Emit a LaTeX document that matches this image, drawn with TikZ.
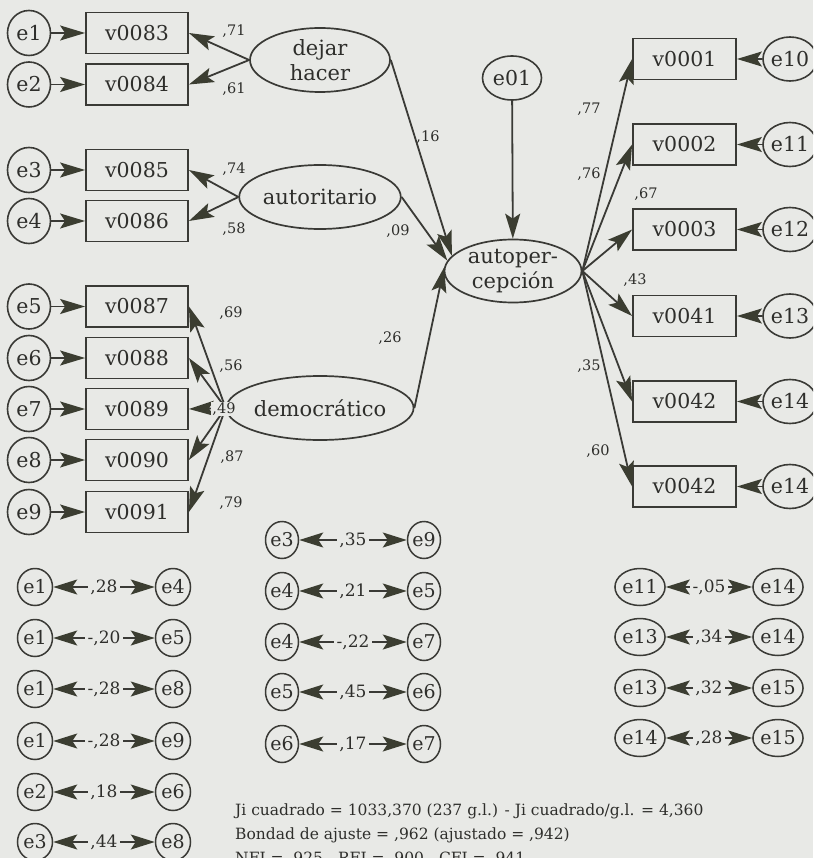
\documentclass[tikz,border=0pt]{standalone}
\usepackage{fontspec}
\setmainfont{DejaVu Serif}
\usetikzlibrary{arrows.meta,shapes.geometric}
\definecolor{bg}{HTML}{E8E9E6}
\definecolor{lc}{HTML}{3A3A36}
\definecolor{hc}{HTML}{3B3D31}
\definecolor{tc}{HTML}{2E2E2B}
\tikzset{
  ar/.style={-{Stealth[length=25pt,width=15pt,inset=5pt,color=hc]}, draw=lc, line width=1.8pt},
  dar/.style={{Stealth[length=24pt,width=15pt,inset=5pt,color=hc]}-{Stealth[length=24pt,width=15pt,inset=5pt,color=hc]}, draw=lc, line width=1.8pt},
  box/.style={draw=lc, line width=1.8pt, minimum width=102pt, minimum height=41pt, inner sep=0pt, text=tc, font=\fontsize{20.5}{24}\selectfont},
  ecirc/.style={ellipse, draw=lc, line width=1.6pt, minimum width=43pt, minimum height=45pt, inner sep=0pt, text=tc, font=\fontsize{20.5}{24}\selectfont},
  rcirc/.style={ellipse, draw=lc, line width=1.6pt, minimum width=37pt, minimum height=44pt, inner sep=0pt, text=tc, font=\fontsize{20.5}{24}\selectfont},
  scirc/.style={ellipse, draw=lc, line width=1.5pt, minimum width=35pt, minimum height=37pt, inner sep=0pt, text=tc, font=\fontsize{19}{22}\selectfont},
  lat/.style={ellipse, draw=lc, line width=1.7pt, minimum width=140pt, minimum height=64pt, inner sep=0pt, align=center, text=tc, font=\fontsize{21}{25}\selectfont},
  lbl/.style={inner sep=1pt, text=tc, font=\fontsize{14.5}{17}\selectfont},
  lblf/.style={lbl, fill=bg},
  clbl/.style={inner sep=2.5pt, fill=bg, text=tc, font=\fontsize{17}{20}\selectfont},
  stat/.style={anchor=base west, inner sep=0pt, text=tc, font=\fontsize{15.5}{18}\selectfont},
}
\begin{document}
\begin{tikzpicture}[x=1pt,y=-1pt]
\fill[bg] (0,0) rectangle (813,858);
\useasboundingbox (0,0) rectangle (813,858);
\clip (0,0) rectangle (813,858);

% left indicators
\foreach \i/\v/\y in {1/v0083/33, 2/v0084/84.5, 3/v0085/170, 4/v0086/221, 5/v0087/306.5, 6/v0088/358, 7/v0089/409, 8/v0090/460, 9/v0091/512}{
  \node[box] (b\i) at (137,\y) {\v};
  \node[ecirc] (e\i) at (29,\y) {e\i};
  \draw[ar] (e\i) -- (b\i);
}

% latent factors
\node[lat] (dh) at (320,60) {dejar\\hacer};
\node[lat] (au) at (320,197) {autoritario};
\node[lat] (de) at (320,408) {democrático};
\node[lat, minimum width=137pt, minimum height=63pt] (ap) at (513,271) {autoper-\\cepción};
\node[ellipse, draw=lc, line width=1.6pt, minimum width=59pt, minimum height=44pt, inner sep=0pt, text=tc, font=\fontsize{20.5}{24}\selectfont] (e01) at (512,78) {e01};

% loadings left
\draw[ar] (dh.west) -- (b1.east);
\draw[ar] (dh.west) -- (b2.east);
\draw[ar] (au.west) -- (b3.east);
\draw[ar] (au.west) -- (b4.east);
\draw[ar] (de.west) -- (b5.east);
\draw[ar] (de.west) -- (b6.east);
\draw[ar] (de.west) -- (b7.east);
\draw[ar] (de.west) -- (b8.east);
\draw[ar] (de.west) -- (b9.east);

\node[lbl] (l71) at (234,31) {,71};
\node[lbl] (l61) at (234,89) {,61};
\node[lbl] (l74) at (234,169) {,74};
\node[lbl] (l58) at (234,229) {,58};
\node[lbl] (l69) at (231,313) {,69};
\node[lblf] (l56) at (231,366) {,56};
\node[lblf] (l49) at (224,409) {,49};
\node[lblf] (l87) at (232,457) {,87};
\node[lbl] (l79) at (231,503) {,79};

% structural paths
\draw[ar] (dh.east) -- (ap.166);
\draw[ar] (au.east) -- (ap.171);
\draw[ar] (de.east) -- (ap.177);
\draw[ar] (e01) -- (ap);
\node[lbl] (l16) at (428,137) {,16};
\node[lbl] (l09) at (398,231) {,09};
\node[lbl] (l26) at (390,338) {,26};

% right indicators
\foreach \i/\v/\y/\e in {1/v0001/59/e10, 2/v0002/144.5/e11, 3/v0003/229.5/e12, 4/v0041/316/e13, 5/v0042/401.5/e14, 6/v0042/486.5/e14}{
  \node[box, minimum width=103pt] (r\i) at (684.5,\y) {\v};
  \node[rcirc] (re\i) at (790,\y) {\e};
  \draw[ar] (re\i) -- (r\i);
  \draw[ar] (ap.east) -- (r\i.west);
}
\node[lbl] (l77) at (589,109) {,77};
\node[lbl] (l76) at (589,174) {,76};
\node[lbl] (l67) at (646,194) {,67};
\node[lbl] (l43) at (635,280) {,43};
\node[lbl] (l35) at (589,366) {,35};
\node[lbl] (l60) at (598,451) {,60};

% correlations left column
\foreach \k/\a/\b/\y/\t in {1/e1/e4/587/{,28}, 2/e1/e5/638/{-,20}, 3/e1/e8/689/{-,28}, 4/e1/e9/741/{-,28}, 5/e2/e6/792/{,18}, 6/e3/e8/842/{,44}}{
  \node[scirc] (ca\k) at (35,\y) {\a};
  \node[scirc] (cb\k) at (173,\y) {\b};
  \draw[dar] (ca\k) -- node[clbl] {\t} (cb\k);
}
% correlations middle column
\foreach \k/\a/\b/\y/\t in {1/e3/e9/540/{,35}, 2/e4/e5/591/{,21}, 3/e4/e7/642/{-,22}, 4/e5/e6/692/{,45}, 5/e6/e7/744/{,17}}{
  \node[scirc, minimum width=33pt] (cm\k) at (282,\y) {\a};
  \node[scirc, minimum width=33pt] (cn\k) at (424,\y) {\b};
  \draw[dar] (cm\k) -- node[clbl] {\t} (cn\k);
}
% correlations right column
\foreach \k/\a/\b/\y/\t in {1/e11/e14/587/{-,05}, 2/e13/e14/637/{,34}, 3/e13/e15/688/{,32}, 4/e14/e15/738/{,28}}{
  \node[scirc, minimum width=34pt] (cr\k) at (640,\y) {\a};
  \node[scirc, minimum width=34pt] (cs\k) at (778,\y) {\b};
  \draw[dar] (cr\k) -- node[clbl] {\t} (cs\k);
}

% fit statistics
\node[stat] (s1) at (235,815) {Ji cuadrado = 1033,370 (237 g.l.) - Ji cuadrado/g.l. = 4,360};
\node[stat] (s2) at (235,839) {Bondad de ajuste = ,962 (ajustado = ,942)};
\node[stat] (s3) at (235,863) {NFI = ,925 - RFI = ,900 - CFI = ,941};
\end{tikzpicture}
\end{document}
